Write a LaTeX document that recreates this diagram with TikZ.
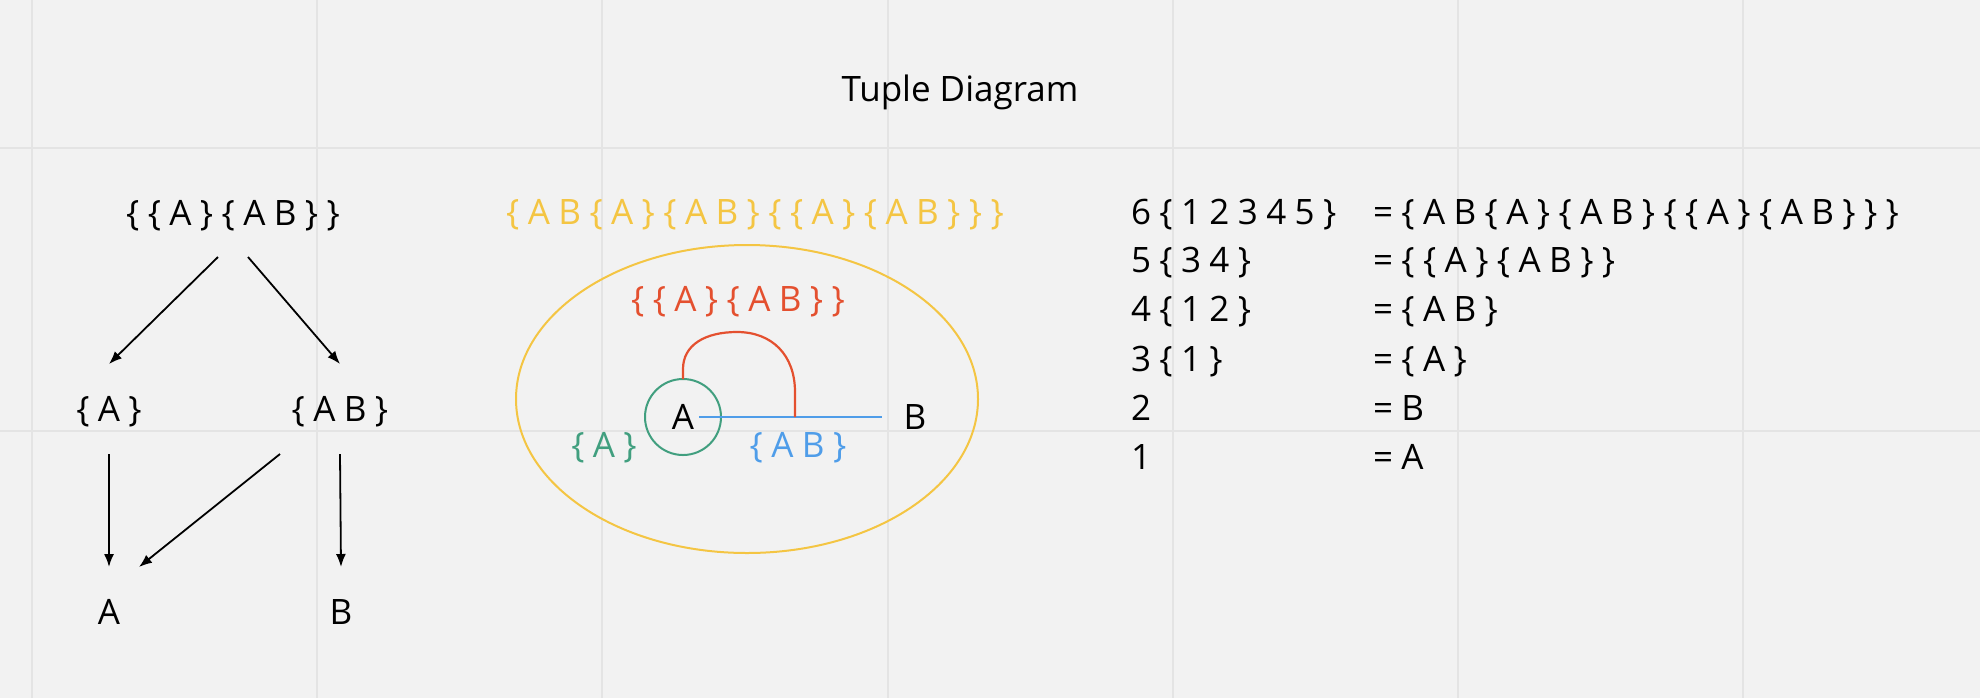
\documentclass[tikz,border=0pt]{standalone}
\usepackage{fontspec}
\setmainfont{Open Sans}
\newfontfamily\setfont[LetterSpace=24]{Open Sans}
\usepackage{tikz}
\usetikzlibrary{arrows.meta}
\usetikzlibrary{positioning}
\usetikzlibrary{shapes.geometric}
\definecolor{boardgray}{HTML}{F2F2F2}
\definecolor{gridgray}{HTML}{E4E4E4}
\definecolor{setyellow}{HTML}{F4C543}
\definecolor{setred}{HTML}{E4502F}
\definecolor{setgreen}{HTML}{419F7F}
\definecolor{setblue}{HTML}{4F9DE9}
\tikzset{
% Define standard arrow tip
>={Latex[length=6.5pt, width=5pt]},
settext/.style={font=\setfont\fontsize{17.5}{21}\selectfont, inner sep=0, outer sep=0},
}

\begin{document}
\begin{tikzpicture}[x=0.5pt, y=-0.5pt, line width=0.9pt]
  \useasboundingbox (0,0) rectangle (1980,698);
  \fill[boardgray] (0,0) rectangle (1980,698);

  % board grid
  \foreach \gx in {32,317,602,888,1173,1458,1743}
    \draw[gridgray, line width=1pt] (\gx,0) -- (\gx,698);
  \foreach \gy in {148,431}
    \draw[gridgray, line width=1pt] (0,\gy) -- (1980,\gy);

  \node[font=\fontsize{17.5}{21}\selectfont, inner sep=0] (title) at (960,92) {Tuple Diagram};

  % tree
  \node[settext] (top) at (233,216) {\{\{A\}\{AB\}\}};
  \node[settext] (lA) at (109,412) {\{A\}};
  \node[settext] (lAB) at (340,412) {\{AB\}};
  \node[settext] (bA) at (109,612) {A};
  \node[settext] (bB) at (341,612) {B};

  \draw[->] ([xshift=-7.5pt, yshift=-20.5pt]top.center) -- ([yshift=24pt]lA.center);
  \draw[->] ([xshift=7.5pt, yshift=-20.5pt]top.center) -- ([yshift=24pt]lAB.center);
  \draw[->] ([yshift=-21pt]lA.center) -- ([yshift=22.5pt]bA.center);
  \draw[->] ([xshift=-30pt, yshift=-21pt]lAB.center) -- ([xshift=15pt, yshift=22.5pt]bA.center);
  \draw[->] ([yshift=-21pt]lAB.center) -- ([yshift=22.5pt]bB.center);

  % nested sets
  \node[settext, text=setyellow] (outerlbl) at (755,215) {\{AB\{A\}\{AB\}\{\{A\}\{AB\}\}\}};
  \node[ellipse, draw=setyellow, line width=1pt, minimum width=231pt, minimum height=154pt] (outer) at (747,399) {};
  \node[settext, text=setred] (pairlbl) at (738,302) {\{\{A\}\{AB\}\}};
  \node[settext, circle, draw=setgreen, line width=1pt, minimum size=38pt] (cA) at (683,417) {A};
  \node[settext] (pB) at (915,417) {B};
  \node[settext, text=setgreen] (singlbl) at (604,448) {\{A\}};
  \node[settext, text=setblue] (duolbl) at (798,448) {\{AB\}};
  \coordinate (tie) at (795,417);

  \draw[setblue, line width=1.3pt] ([xshift=8pt]cA.center) -- ([xshift=-16.5pt]pB.center);
  \draw[setred, line width=1.1pt] (cA.north) -- ++(0,-10)
    .. controls (683,345) and (705,332) .. (737,332)
    .. controls (772,332) and (795,355) .. (795,392) -- (tie);

  % table
  \node[settext, anchor=west] (n6) at (1131,215) {6\{12345\}};
  \node[settext, anchor=west] (n5) at (1131,263) {5\{34\}};
  \node[settext, anchor=west] (n4) at (1131,312) {4\{12\}};
  \node[settext, anchor=west] (n3) at (1131,362) {3\{1\}};
  \node[settext, anchor=west] (n2) at (1131,408) {2};
  \node[settext, anchor=west] (n1) at (1131,457) {1};

  \node[settext, anchor=west] (v6) at (1373,215) {=\{AB\{A\}\{AB\}\{\{A\}\{AB\}\}\}};
  \node[settext, anchor=west] (v5) at (1373,263) {=\{\{A\}\{AB\}\}};
  \node[settext, anchor=west] (v4) at (1373,312) {=\{AB\}};
  \node[settext, anchor=west] (v3) at (1373,362) {=\{A\}};
  \node[settext, anchor=west] (v2) at (1373,408) {=B};
  \node[settext, anchor=west] (v1) at (1373,457) {=A};
\end{tikzpicture}
\end{document}
